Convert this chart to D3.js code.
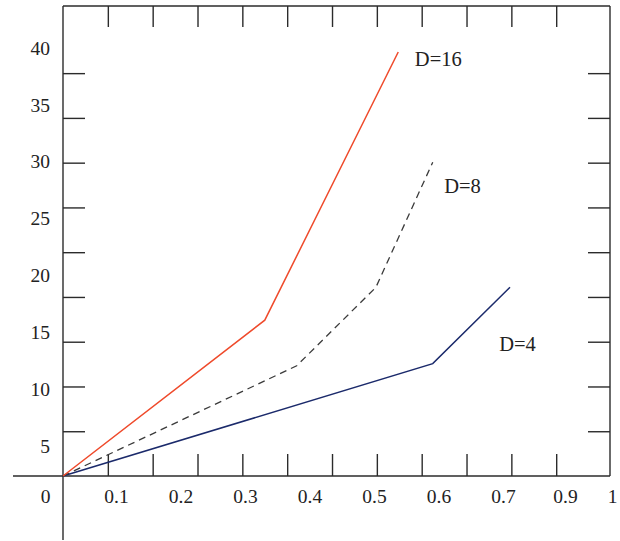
<!DOCTYPE html>
<html>
<head>
<meta charset="utf-8">
<script src="https://cdn.jsdelivr.net/npm/d3@7/dist/d3.min.js"></script>
<style>
  body { margin: 0; background: #fff; }
  text { font-family: "Liberation Serif", "Times New Roman", serif; fill: #222; }
</style>
</head>
<body>
<svg id="chart" width="620" height="541"></svg>
<script>
// Series (x, y in the plot's own units)
let seriesNames = ["D=16", "D=8", "D=4"];
let d16 = [[0, 0], [0.316, 14.7], [0.525, 40]];
let d8 = [[0, 0], [0.366, 10.4], [0.49, 17.8], [0.579, 29.6]];
let d4 = [[0, 0], [0.579, 10.6], [0.7, 17.8]];

// Curve labels, anchored in data units
let labelX = [0.551, 0.597, 0.683];
let labelY = [38.7, 26.7, 11.8];

// Tick labels as printed
let xTickValues = [0, 0.1, 0.2, 0.3, 0.4, 0.5, 0.6, 0.7, 0.9, 1];
let xTickLabels = ["0", "0.1", "0.2", "0.3", "0.4", "0.5", "0.6", "0.7", "0.9", "1"];
let yTickValues = [5, 10, 15, 20, 25, 30, 35, 40];

let svg = d3.select("#chart");

// Data scales
let x = d3.scaleLinear().domain([0, 0.7]).range([63, 510]);
let y = d3.scaleLinear().domain([0, 40]).range([476, 52]);

// Frame tick scales (ticks are evenly spaced, not tied to the labels)
let xFrame = d3.scaleLinear().domain([0, 12.2]).range([63, 610]);
let yFrame = d3.scaleLinear().domain([0, 10.5]).range([476, 6]);

// Label scales (labels in the source sit where they sit)
let xLabel = d3.scaleLinear().domain([0, 0.1, 0.7, 0.9, 1]).range([45, 116, 503, 565, 612]);
let yLabel = d3.scaleLinear().domain([5, 40]).range([446, 48]);

let axisColor = "#2b2b2b";

// frame and axes lines
svg.append("line").attr("x1", 13).attr("x2", 610).attr("y1", 476).attr("y2", 476);
svg.append("line").attr("x1", 63).attr("x2", 63).attr("y1", 6).attr("y2", 540);
svg.append("line").attr("x1", 63).attr("x2", 610).attr("y1", 6).attr("y2", 6);
svg.append("line").attr("x1", 610).attr("x2", 610).attr("y1", 6).attr("y2", 476);
svg.selectAll("line").attr("stroke", axisColor).attr("stroke-width", 1.4);

function tickAxis(axis, tx, ty) {
  let g = svg.append("g").attr("transform", "translate(" + tx + "," + ty + ")").call(axis);
  g.select(".domain").remove();
  g.selectAll(".tick line").attr("stroke", axisColor).attr("stroke-width", 1.4);
  return g;
}

let xt = d3.range(1, 12);
let yt = d3.range(1, 10);
tickAxis(d3.axisTop(xFrame).tickValues(xt).tickSize(22).tickFormat(""), 0, 476);
tickAxis(d3.axisBottom(xFrame).tickValues(xt).tickSize(21).tickFormat(""), 0, 6);
tickAxis(d3.axisRight(yFrame).tickValues(yt).tickSize(22).tickFormat(""), 63, 0);
tickAxis(d3.axisLeft(yFrame).tickValues(yt).tickSize(22).tickFormat(""), 610, 0);

// tick labels
let gx = tickAxis(d3.axisBottom(xLabel).tickValues(xTickValues).tickSize(0).tickPadding(13)
  .tickFormat((d, i) => xTickLabels[i]), 0, 476);
gx.selectAll("text").attr("font-size", 19.5).attr("fill", "#222");
gx.attr("font-family", null);

let gy = tickAxis(d3.axisLeft(yLabel).tickValues(yTickValues).tickSize(0).tickPadding(13), 63, 0);
gy.selectAll("text").attr("font-size", 19.5).attr("fill", "#222");
gy.attr("font-family", null);

// series lines
let line = d3.line().x(d => x(d[0])).y(d => y(d[1]));

svg.append("path").datum(d4)
  .attr("d", line).attr("fill", "none")
  .attr("stroke", "#1b2a6b").attr("stroke-width", 1.5);

svg.append("path").datum(d8)
  .attr("d", line).attr("fill", "none")
  .attr("stroke", "#3a3a3a").attr("stroke-width", 1.3)
  .attr("stroke-dasharray", "7,5");

svg.append("path").datum(d16)
  .attr("d", line).attr("fill", "none")
  .attr("stroke", "#ef4a2b").attr("stroke-width", 1.5);

// curve labels
svg.selectAll(".curve-label")
  .data(seriesNames)
  .enter().append("text")
  .attr("class", "curve-label")
  .attr("x", (d, i) => x(labelX[i]))
  .attr("y", (d, i) => y(labelY[i]))
  .attr("font-size", 20.5)
  .text(d => d);
</script>
</body>
</html>
